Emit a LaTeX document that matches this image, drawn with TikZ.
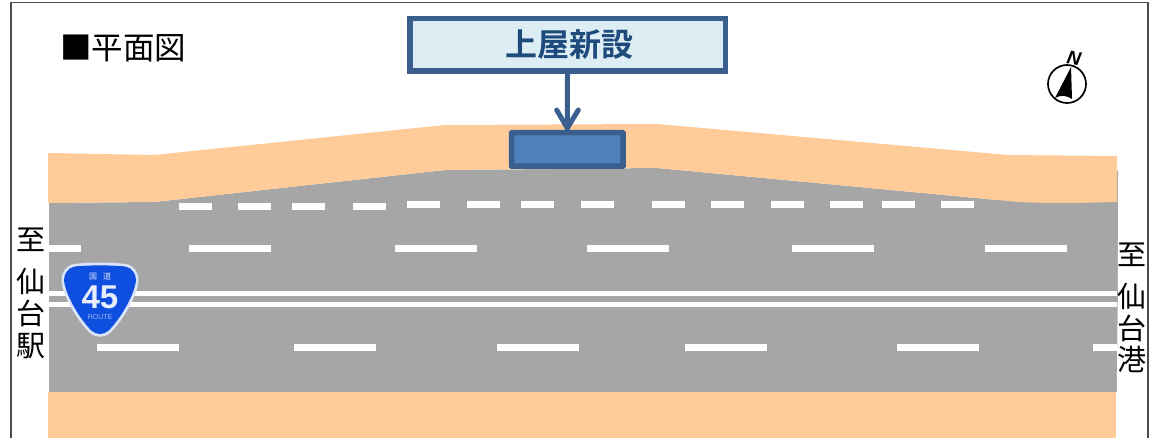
\documentclass[tikz,border=0pt]{standalone}
\usepackage{fontspec}
\setmainfont{Noto Sans CJK JP}
\newfontfamily\cjkbold[BoldFont={Noto Sans CJK JP Bold}]{Noto Sans CJK JP}
\newfontfamily\latinsans{Liberation Sans}
\definecolor{sidewalk}{HTML}{FFCC99}
\definecolor{road}{HTML}{A6A6A6}
\definecolor{boxline}{HTML}{3A5F8F}
\definecolor{boxfill}{HTML}{DCEDF3}
\definecolor{roof}{HTML}{4F81BD}
\definecolor{routeblue}{HTML}{0F4FE0}
\definecolor{textblue}{HTML}{1F4A7C}
\tikzset{
  lane/.style={fill=white,draw=none},
  vlabel/.style={font=\fontsize{29}{29}\selectfont,inner sep=0pt,anchor=center},
  boxed/.style={draw=boxline,line width=5.5pt,fill=boxfill,inner sep=0pt}
}
\begin{document}
\begin{tikzpicture}[x=1pt,y=-1pt]
\useasboundingbox (0,0) rectangle (1153,438);
\fill[white] (0,0) rectangle (1153,438);
% frame
\draw[line width=1.5pt,draw=black!70] (11,438) -- (11,2.5) -- (1148,2.5) -- (1148,438);
% road
\fill[road] (49,203) -- (154,202) -- (445,170) -- (657,168) -- (1008,201) -- (1118,171) -- (1117.5,300) -- (1116.5,392) -- (49,392) -- cycle;
\fill[road] (1000,171) -- (1118,171) -- (1117.5,300) -- (1116.5,392) -- (1000,392) -- cycle;
% sidewalks
\fill[sidewalk] (48,153) -- (154,155) -- (445,125) -- (657,124) -- (1008,155) -- (1117,156) -- (1117,202) .. controls (1080,203) and (1040,204) .. (1008,201) -- (657,168) -- (445,170) -- (154,202) -- (48,203) -- cycle;
\fill[sidewalk] (48,392) rectangle (1116,438);
% upper dashes
\foreach \a/\b/\t in {179/212/203,238/271/203,292/325/203,353/386/203,407/440/201,467/500/201,521/554/201,581/614/201,652/685/201,711/744/201,771/804/201,830/863/201,882/915/201,941/974/201}{
  \fill[lane] (\a,\t) rectangle (\b,\t+7);
}
% middle dashes
\foreach \a/\b in {49/81,189/271,395/477,587/669,792/874,985/1067}{
  \fill[lane] (\a,245) rectangle (\b,252);
}
% lower dashes
\foreach \a/\b in {97/179,294/376,497/579,685/767,897/979,1093/1117}{
  \fill[lane] (\a,344) rectangle (\b,351);
}
% centre lines
\fill[lane] (49,291) rectangle (1117,296);
\fill[lane] (49,302) rectangle (1117,307);
% route shield
\begin{scope}[shift={(100,300)}]
\path[fill=white!85!routeblue]
  (-26,-36) .. controls (-10,-38) and (10,-38) .. (26,-36)
  .. controls (34,-35) and (38.5,-27) .. (38.5,-20)
  .. controls (38,-5) and (22,22) .. (10,33)
  .. controls (4,38) and (-4,38) .. (-10,33)
  .. controls (-22,22) and (-38,-5) .. (-38.5,-20)
  .. controls (-38.5,-27) and (-34,-35) .. (-26,-36) -- cycle;
\path[fill=routeblue]
  (-25,-33.5) .. controls (-10,-35) and (10,-35) .. (25,-33.5)
  .. controls (32,-32.5) and (36,-26) .. (36,-20)
  .. controls (35,-6) and (20,20) .. (8,31)
  .. controls (3,35) and (-3,35) .. (-8,31)
  .. controls (-20,20) and (-35,-6) .. (-36,-20)
  .. controls (-36,-26) and (-32,-32.5) .. (-25,-33.5) -- cycle;
\node[text=white!85!routeblue,font=\fontsize{8}{8}\selectfont,inner sep=0pt] (kokudo) at (0,-24) {国\hspace{6pt}道};
\node[text=white!90!routeblue,font=\latinsans\bfseries\fontsize{33}{33}\selectfont,inner sep=0pt] (num) at (0,-3) {45};
\node[text=white!60!routeblue,font=\latinsans\fontsize{7}{7}\selectfont,inner sep=0pt] (route) at (0,17) {ROUTE};
\end{scope}
% title
\node[font=\fontsize{31.5}{31.5}\selectfont,anchor=west,inner sep=0pt] (title) at (60,48.5) {■平面図};
% callout
\node[boxed,minimum width=315.5pt,minimum height=52.5pt] (callout) at (567.5,45)
  {\hspace{3pt}\cjkbold\bfseries\color{textblue}\fontsize{32}{32}\selectfont 上屋新設};
\node[draw=boxline,line width=5.5pt,fill=roof,rounded corners=0.5pt,minimum width=111.5pt,minimum height=33.5pt,inner sep=0pt] (shelter) at (567.3,149.5) {};
\draw[draw=boxline,line width=5pt] (callout.south) -- (shelter.north);
\draw[draw=boxline,line width=5pt,line cap=round,line join=round] (556.7,110) -- (567.3,128) -- (578.3,110);
% side labels
\node[vlabel] (l1) at (31,240) {至};
\node[vlabel] (l2) at (31,281) {仙};
\node[vlabel] (l3) at (31,313) {台};
\node[vlabel] (l4) at (31,346) {駅};
\node[vlabel] (r1) at (1132,255) {至};
\node[vlabel] (r2) at (1132,296) {仙};
\node[vlabel] (r3) at (1132,328) {台};
\node[vlabel] (r4) at (1132,359) {港};
% north mark
\draw[line width=1.7pt] (1067,84) circle (19pt);
\fill (1071,67) -- (1072,99) .. controls (1066,95) and (1060,95) .. (1055,98) -- cycle;
\node[font=\latinsans\bfseries\itshape\fontsize{19}{19}\selectfont,rotate=-10,inner sep=0pt] (north) at (1074,58) {N};
\end{tikzpicture}
\end{document}
